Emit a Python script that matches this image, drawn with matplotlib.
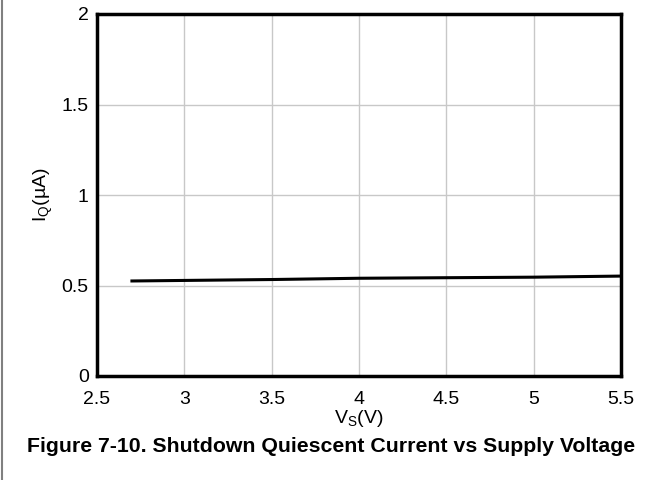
import matplotlib
matplotlib.use("Agg")
from matplotlib import pyplot as plt
from matplotlib.lines import Line2D

plt.rcParams['font.family'] = ['Liberation Sans', 'DejaVu Sans']

vs = [2.7, 3.0, 3.5, 4.0, 4.5, 5.0, 5.5]
iq = [0.525, 0.528, 0.533, 0.540, 0.543, 0.546, 0.552]

xticks = [2.5, 3, 3.5, 4, 4.5, 5, 5.5]
yticks = [0, 0.5, 1, 1.5, 2]

fig = plt.figure(figsize=(6.63, 4.8), dpi=100)
ax = fig.add_axes([97 / 663, 1 - 376 / 480, (621 - 97) / 663, (376 - 14) / 480])

ax.plot(vs, iq, color='black', linewidth=2.2)
ax.set_xlim(2.5, 5.5)
ax.set_ylim(0, 2)
ax.set_xticks(xticks)
ax.set_xticklabels(['2.5', '3', '3.5', '4', '4.5', '5', '5.5'])
ax.set_yticks(yticks)
ax.set_yticklabels(['0', '0.5', '1', '1.5', '2'])
ax.grid(color='#c8c8c8', linewidth=1)
ax.set_axisbelow(True)
for s in ax.spines.values():
    s.set_linewidth(2.5)
ax.tick_params(length=0, labelsize=14)
ax.tick_params(axis='x', pad=11)
ax.tick_params(axis='y', pad=6)
ax.set_xlabel('V$_\\mathregular{S}$(V)', fontsize=14, labelpad=0)
ax.set_ylabel('I$_\\mathregular{Q}$(µA)', fontsize=14, labelpad=5)

fig.text(0.5, 1 - 447 / 480, 'Figure 7-10. Shutdown Quiescent Current vs Supply Voltage',
         ha='center', va='center', fontsize=15.3, fontweight='bold')
fig.add_artist(Line2D([1.5 / 663, 1.5 / 663], [0, 1], color='#808080', linewidth=1.5,
                      transform=fig.transFigure))

fig.savefig('out.png', dpi=100)
